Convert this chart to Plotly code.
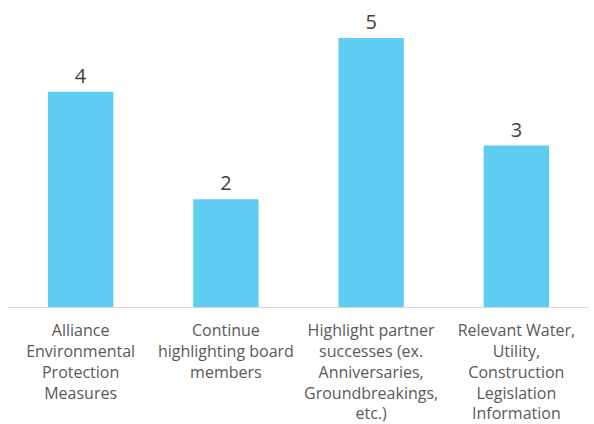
import plotly.graph_objects as go

categories = [
    "Alliance<br>Environmental<br>Protection<br>Measures",
    "Continue<br>highlighting board<br>members",
    "Highlight partner<br>successes (ex.<br>Anniversaries,<br>Groundbreakings,<br>etc.)",
    "Relevant Water,<br>Utility,<br>Construction<br>Legislation<br>Information",
]
values = [4, 2, 5, 3]

fig = go.Figure(
    go.Bar(
        x=categories,
        y=values,
        marker=dict(color="#5FCDF2", line=dict(width=0)),
        text=[str(v) for v in values],
        textposition="outside",
        textfont=dict(size=20, color="#404040", family="Open Sans"),
        cliponaxis=False,
    )
)

fig.update_layout(
    width=594,
    height=424,
    margin=dict(l=8, r=5, t=11, b=117),
    paper_bgcolor="white",
    plot_bgcolor="white",
    bargap=0.55,
    showlegend=False,
    font=dict(family="Open Sans", color="#595959", size=16),
    xaxis=dict(
        automargin=False,
        showline=True,
        linecolor="#D9D9D9",
        linewidth=1,
        ticks="",
        ticklabelstandoff=9,
        tickfont=dict(size=16, color="#595959"),
        showgrid=False,
    ),
    yaxis=dict(
        automargin=False,
        range=[0, 5.5],
        visible=False,
        showgrid=False,
        zeroline=False,
    ),
)

fig.write_html(
    "out.html",
    config={"displayModeBar": False},
    post_script="document.body.style.margin='0';document.body.style.overflow='hidden';",
)
